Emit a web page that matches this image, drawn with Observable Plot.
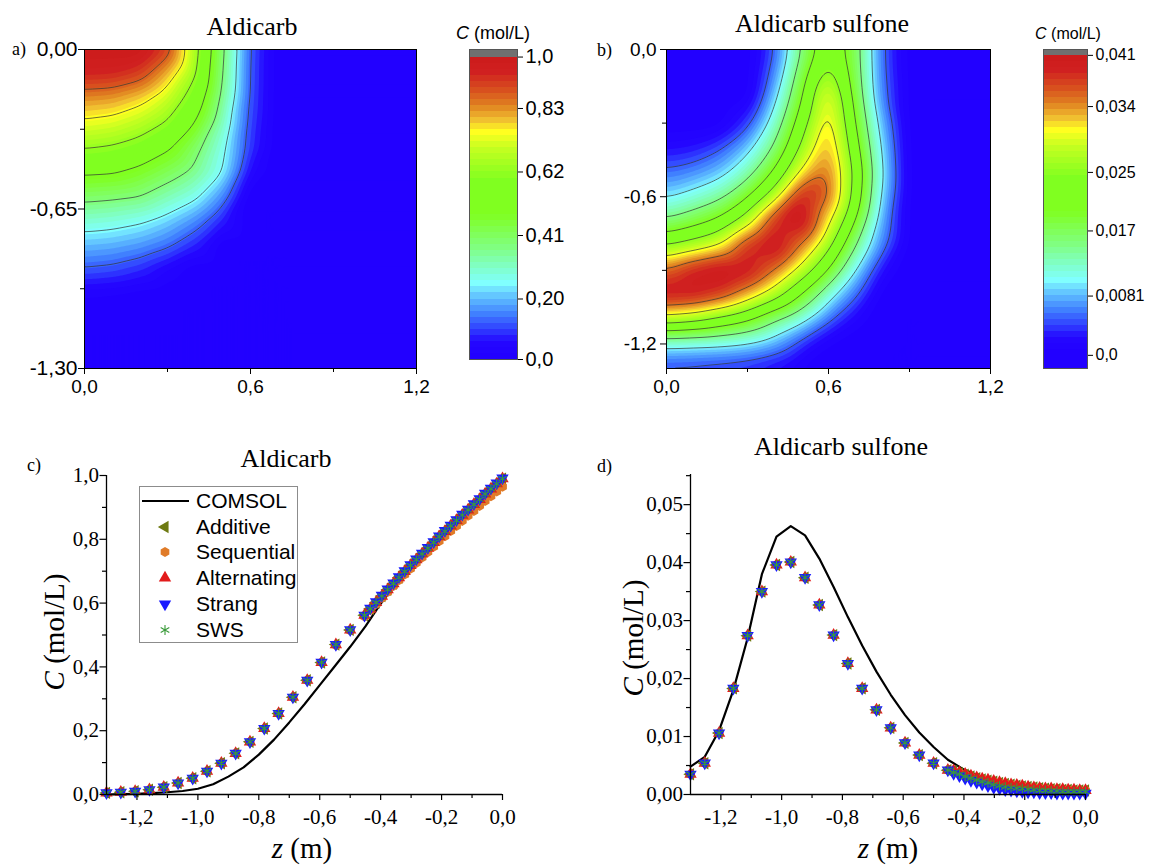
<!DOCTYPE html>
<html><head><meta charset="utf-8">
<script src="https://cdn.jsdelivr.net/npm/d3@7"></script>
<script src="https://cdn.jsdelivr.net/npm/@observablehq/plot@0.6"></script>
<style>
body{margin:0;background:#fff;}
#root{position:relative;width:1153px;height:865px;overflow:hidden;background:#fff;}
#root > svg{position:absolute;background:transparent;}
</style></head><body><div id="root"></div>
<script>
// ---------- DATA ----------
// 2D fields (rows: depth z, columns: horizontal x)
const gridX = [0, 0.1, 0.2, 0.3, 0.4, 0.5, 0.6, 0.7, 0.8, 0.9, 1.0, 1.1, 1.2];
const gridZ = [0, -0.1, -0.2, -0.3, -0.4, -0.5, -0.6, -0.7, -0.8, -0.9, -1.0, -1.1, -1.2, -1.3];
const aldicarbGrid = [
  [1.00, 1.00, 1.00, 0.91, 0.66, 0.39, 0.12, 0, 0, 0, 0, 0, 0],
  [0.95, 0.945, 0.91, 0.80, 0.635, 0.375, 0.115, 0, 0, 0, 0, 0, 0],
  [0.83, 0.82, 0.78, 0.70, 0.57, 0.35, 0.11, 0, 0, 0, 0, 0, 0],
  [0.735, 0.72, 0.68, 0.615, 0.50, 0.31, 0.10, 0, 0, 0, 0, 0, 0],
  [0.63, 0.615, 0.58, 0.515, 0.405, 0.27, 0.09, 0, 0, 0, 0, 0, 0],
  [0.515, 0.508, 0.473, 0.418, 0.354, 0.25, 0.05, 0, 0, 0, 0, 0, 0],
  [0.40, 0.39, 0.375, 0.32, 0.266, 0.158, 0, 0, 0, 0, 0, 0, 0],
  [0.29, 0.28, 0.26, 0.22, 0.16, 0.07, 0, 0, 0, 0, 0, 0, 0],
  [0.198, 0.19, 0.17, 0.135, 0.075, 0, 0, 0, 0, 0, 0, 0, 0],
  [0.115, 0.105, 0.08, 0.035, 0, 0, 0, 0, 0, 0, 0, 0, 0],
  [0.02, 0.015, 0.005, 0, 0, 0, 0, 0, 0, 0, 0, 0, 0],
  [0, 0, 0, 0, 0, 0, 0, 0, 0, 0, 0, 0, 0],
  [0, 0, 0, 0, 0, 0, 0, 0, 0, 0, 0, 0, 0],
  [0, 0, 0, 0, 0, 0, 0, 0, 0, 0, 0, 0, 0]
];
const sulfoneGrid = [
  [0, 0, 0, 0, 0.0045, 0.0153, 0.024, 0.0174, 0.0049, 0, 0, 0, 0],
  [0, 0, 0, 0, 0.0062, 0.0176, 0.028, 0.0176, 0.0052, 0, 0, 0, 0],
  [0, 0, 0, 0, 0.0089, 0.0198, 0.032, 0.0185, 0.0058, 0, 0, 0, 0],
  [0, 0, 0, 0.0035, 0.012, 0.0227, 0.033, 0.020, 0.0078, 0, 0, 0, 0],
  [0.002, 0.0025, 0.0045, 0.0086, 0.0153, 0.026, 0.034, 0.022, 0.0092, 0, 0, 0, 0],
  [0.0055, 0.0065, 0.0085, 0.013, 0.0205, 0.031, 0.0355, 0.024, 0.010, 0, 0, 0, 0],
  [0.0095, 0.0115, 0.014, 0.0193, 0.0278, 0.040, 0.036, 0.0232, 0.0089, 0, 0, 0, 0],
  [0.0155, 0.018, 0.0212, 0.028, 0.039, 0.042, 0.031, 0.020, 0.0073, 0, 0, 0, 0],
  [0.025, 0.0275, 0.0305, 0.039, 0.042, 0.035, 0.0265, 0.015, 0.006, 0, 0, 0, 0],
  [0.036, 0.040, 0.042, 0.041, 0.0355, 0.0285, 0.020, 0.010, 0.002, 0, 0, 0, 0],
  [0.041, 0.0405, 0.038, 0.033, 0.0275, 0.0197, 0.0115, 0.0055, 0, 0, 0, 0, 0],
  [0.028, 0.0265, 0.0235, 0.0205, 0.0153, 0.0113, 0.0055, 0.0015, 0, 0, 0, 0, 0],
  [0.0108, 0.0105, 0.0103, 0.0095, 0.0075, 0.0035, 0.0005, 0, 0, 0, 0, 0, 0],
  [0.0035, 0.0034, 0.003, 0.0025, 0.0015, 0.0003, 0, 0, 0, 0, 0, 0, 0]
];
const aldicarbMax = 1.0, sulfoneMax = 0.041;
const aldicarbLines = [0.125, 0.25, 0.375, 0.5, 0.625, 0.75, 0.875];
const sulfoneLines = [0.005, 0.01, 0.015, 0.02, 0.025, 0.03, 0.035];

// colour bar ticks
const cbarATicks = [0, 0.20, 0.41, 0.62, 0.83, 1.0];
const cbarALabels = ["0,0", "0,20", "0,41", "0,62", "0,83", "1,0"];
const cbarBTicks = [0, 0.0081, 0.017, 0.025, 0.034, 0.041];
const cbarBLabels = ["0,0", "0,0081", "0,017", "0,025", "0,034", "0,041"];

// profiles (z in m)
const zNum = [-1.300, -1.253, -1.206, -1.159, -1.112, -1.065, -1.017, -0.970, -0.923, -0.876, -0.829, -0.782, -0.735, -0.688, -0.641, -0.594, -0.547, -0.500, -0.453,
  -0.434, -0.415, -0.396, -0.377, -0.358, -0.340, -0.321, -0.302, -0.283, -0.264, -0.245, -0.226, -0.208, -0.189, -0.170, -0.151, -0.132, -0.113, -0.094, -0.075, -0.057, -0.038, -0.019, 0.000];

const zComsolC = [-1.30, -1.25, -1.20, -1.15, -1.10, -1.05, -1.00, -0.95, -0.90, -0.85, -0.80, -0.75, -0.70, -0.65, -0.60, -0.55, -0.50, -0.45, -0.40, -0.35, -0.30, -0.25, -0.20, -0.15, -0.10, -0.05, 0.00];
const cComsol = [0.000, 0.001, 0.002, 0.004, 0.007, 0.011, 0.018, 0.032, 0.056, 0.085, 0.125, 0.172, 0.226, 0.283, 0.343, 0.403, 0.463, 0.527, 0.598, 0.660, 0.716, 0.767, 0.814, 0.859, 0.903, 0.946, 0.990];

const cAdditive = [0.005, 0.007, 0.010, 0.015, 0.023, 0.036, 0.051, 0.073, 0.098, 0.129, 0.165, 0.207, 0.254, 0.305, 0.358, 0.414, 0.470, 0.516, 0.562,
  0.582, 0.602, 0.622, 0.642, 0.661, 0.680, 0.699, 0.718, 0.736, 0.754, 0.772, 0.790, 0.808, 0.825, 0.842, 0.859, 0.876, 0.892, 0.909, 0.925, 0.942, 0.958, 0.974, 0.990];
const cSequential = [0.005, 0.007, 0.010, 0.015, 0.023, 0.036, 0.051, 0.073, 0.098, 0.129, 0.165, 0.207, 0.254, 0.305, 0.358, 0.414, 0.468, 0.514, 0.558,
  0.578, 0.597, 0.616, 0.635, 0.654, 0.672, 0.690, 0.708, 0.726, 0.743, 0.760, 0.777, 0.794, 0.810, 0.826, 0.842, 0.858, 0.874, 0.889, 0.905, 0.920, 0.935, 0.950, 0.965];
const cAlternating = [0.005, 0.007, 0.010, 0.015, 0.023, 0.036, 0.051, 0.073, 0.098, 0.129, 0.165, 0.207, 0.254, 0.305, 0.358, 0.414, 0.470, 0.516, 0.562,
  0.582, 0.602, 0.622, 0.642, 0.661, 0.680, 0.699, 0.718, 0.736, 0.754, 0.772, 0.790, 0.808, 0.825, 0.842, 0.859, 0.876, 0.892, 0.909, 0.925, 0.942, 0.958, 0.974, 0.990];
const cStrang = [0.005, 0.007, 0.010, 0.015, 0.023, 0.036, 0.051, 0.073, 0.098, 0.129, 0.165, 0.207, 0.254, 0.305, 0.358, 0.414, 0.470, 0.516, 0.562,
  0.584, 0.604, 0.624, 0.644, 0.663, 0.682, 0.701, 0.720, 0.738, 0.756, 0.774, 0.792, 0.810, 0.827, 0.844, 0.861, 0.878, 0.894, 0.911, 0.927, 0.944, 0.960, 0.976, 0.992];
const cSWS = [0.005, 0.007, 0.010, 0.015, 0.023, 0.036, 0.051, 0.073, 0.098, 0.129, 0.165, 0.207, 0.254, 0.305, 0.358, 0.414, 0.470, 0.516, 0.562,
  0.582, 0.602, 0.622, 0.642, 0.661, 0.680, 0.699, 0.718, 0.736, 0.754, 0.772, 0.790, 0.808, 0.825, 0.842, 0.859, 0.876, 0.892, 0.909, 0.925, 0.942, 0.958, 0.974, 0.990];

const zComsolD = [-1.300, -1.253, -1.206, -1.159, -1.112, -1.065, -1.017, -0.970, -0.923, -0.876, -0.829, -0.782, -0.735, -0.688, -0.641, -0.594, -0.547, -0.500, -0.453, -0.40, -0.35, -0.30, -0.25, -0.20, -0.15, -0.10, -0.05, 0.00];
const dComsol = [0.0048, 0.0065, 0.0110, 0.0180, 0.0270, 0.0380, 0.0445, 0.0463, 0.0447, 0.0407, 0.0358, 0.0306, 0.0257, 0.0212, 0.0172, 0.0137, 0.0107, 0.0082, 0.0060, 0.0043, 0.0032, 0.0024, 0.0018, 0.0013, 0.0010, 0.0008, 0.0006, 0.0005];

const dAdditive = [0.0035, 0.0054, 0.0106, 0.0183, 0.0274, 0.0350, 0.0396, 0.0401, 0.0374, 0.0327, 0.0275, 0.0226, 0.0183, 0.0146, 0.0115, 0.0089, 0.0068, 0.0054, 0.0042,
  0.0040, 0.0037, 0.0034, 0.0031, 0.0028, 0.0026, 0.0024, 0.0022, 0.0020, 0.0018, 0.0017, 0.0015, 0.0014, 0.0013, 0.0012, 0.0011, 0.0010, 0.0009, 0.0009, 0.0008, 0.0008, 0.0007, 0.0007, 0.0007];
const dSequential = [0.0035, 0.0054, 0.0106, 0.0183, 0.0274, 0.0350, 0.0396, 0.0401, 0.0374, 0.0327, 0.0275, 0.0226, 0.0183, 0.0146, 0.0115, 0.0089, 0.0068, 0.0054, 0.0042,
  0.0040, 0.0037, 0.0034, 0.0031, 0.0028, 0.0026, 0.0024, 0.0022, 0.0020, 0.0018, 0.0017, 0.0015, 0.0014, 0.0013, 0.0012, 0.0011, 0.0010, 0.0009, 0.0009, 0.0008, 0.0008, 0.0007, 0.0007, 0.0007];
const dAlternating = [0.0035, 0.0054, 0.0106, 0.0183, 0.0274, 0.0350, 0.0396, 0.0401, 0.0374, 0.0327, 0.0275, 0.0226, 0.0183, 0.0146, 0.0115, 0.0089, 0.0068, 0.0054, 0.0042,
  0.0041, 0.0038, 0.0035, 0.0032, 0.0029, 0.0027, 0.0025, 0.0023, 0.0021, 0.0019, 0.0017, 0.0016, 0.0015, 0.0013, 0.0012, 0.0011, 0.0010, 0.0010, 0.0009, 0.0009, 0.0008, 0.0008, 0.0007, 0.0007];
const dStrang = [0.0035, 0.0054, 0.0106, 0.0183, 0.0274, 0.0350, 0.0396, 0.0401, 0.0374, 0.0327, 0.0275, 0.0226, 0.0183, 0.0146, 0.0115, 0.0089, 0.0068, 0.0054, 0.0042,
  0.0036, 0.0032, 0.0028, 0.0024, 0.0021, 0.0018, 0.0015, 0.0012, 0.0010, 0.0008, 0.0007, 0.0006, 0.0005, 0.0004, 0.0004, 0.0003, 0.0003, 0.0003, 0.0002, 0.0002, 0.0002, 0.0002, 0.0002, 0.0002];
const dSWS = [0.0035, 0.0054, 0.0106, 0.0183, 0.0274, 0.0350, 0.0396, 0.0401, 0.0374, 0.0327, 0.0275, 0.0226, 0.0183, 0.0146, 0.0115, 0.0089, 0.0068, 0.0054, 0.0042,
  0.0038, 0.0035, 0.0031, 0.0028, 0.0025, 0.0022, 0.0020, 0.0017, 0.0015, 0.0013, 0.0012, 0.0011, 0.0010, 0.0009, 0.0008, 0.0007, 0.0007, 0.0006, 0.0006, 0.0005, 0.0005, 0.0005, 0.0005, 0.0005];

const methods = ["Additive", "Sequential", "Alternating", "Strang", "SWS"];

// ---------- STYLE ----------
const stopT = [0, 0.05, 0.09, 0.14, 0.195, 0.24, 0.30, 0.36, 0.47, 0.58, 0.69, 0.74, 0.78, 0.83, 0.88, 0.94, 1.0];
const stopColors = ["#2200ff", "#2408ff", "#3040ff", "#4080ff", "#60c0ff", "#80ffff", "#80ffc0", "#80ff80", "#80ff20", "#80ff20", "#c8ff20", "#ffff20", "#f0c030", "#e08020", "#d8501e", "#d02020", "#cc1a1a"];
const methodStyle = {
  Additive:    {symbol: "triangle", rotate: -90, fill: "#6e7a12", r: 4.6},
  Sequential:  {symbol: "hexagon", rotate: 0, fill: "#e07b28", r: 4.4},
  Alternating: {symbol: "triangle", rotate: 0, fill: "#e21b1b", r: 4.6},
  Strang:      {symbol: "triangle", rotate: 180, fill: "#1a1aff", r: 4.6},
  SWS:         {symbol: "asterisk", rotate: 0, stroke: "#3a9a3a", r: 4.6}
};
const SANS = "Liberation Sans, Arial, sans-serif";
const SERIF = "Liberation Serif, Times New Roman, serif";

const fmt = n => d => (Math.abs(d) < 1e-9 ? 0 : d).toFixed(n).replace(".", ",");
const colorScale = max => ({type: "linear", domain: stopT.map(t => t * max), range: stopColors, interpolate: "rgb", clamp: true});
const blank = () => "";
const root = document.getElementById("root");
function place(el, left, top, family) {
  el.style.left = left + "px"; el.style.top = top + "px";
  if (family) {
    el.setAttribute("font-family", family);
    el.querySelectorAll("text").forEach(t => t.setAttribute("font-family", family));
  }
  root.appendChild(el);
}

// ---------- CONTOUR PANELS ----------
function contourPanel(grid, max, lines, o) {
  const pts = gridZ.flatMap((z, i) => gridX.map((x, j) => ({x, z, v: grid[i][j]})));
  const bands = d3.range(50).map(i => i * max / 50);
  return Plot.plot({
    width: o.width, height: o.height, marginTop: o.mt, marginRight: o.mr, marginBottom: o.mb, marginLeft: o.ml,
    x: {domain: [0, 1.2]}, y: {domain: [-1.3, 0]},
    color: colorScale(max),
    marks: [
      Plot.frame({fill: stopColors[0]}),
      Plot.contour(pts, {x: "x", y: "z", fill: "v", thresholds: bands, interpolate: "barycentric", pixelSize: 1, blur: o.blur}),
      Plot.contour(pts, {x: "x", y: "z", value: "v", thresholds: lines, interpolate: "barycentric", pixelSize: 1, blur: o.blur, stroke: "#333", strokeWidth: 0.7, fill: "none"}),
      Plot.frame({stroke: "#000", strokeWidth: 1}),
      Plot.axisX({ticks: [0, 0.6, 1.2], tickSize: 6, tickPadding: 5, tickFormat: fmt(1), fontSize: 19, fontFamily: SANS, label: null}),
      Plot.axisX({ticks: [0.3, 0.9], tickSize: 4, tickFormat: blank, label: null}),
      Plot.axisY({ticks: o.yTicks, tickSize: 6, tickPadding: o.yPad, tickFormat: fmt(o.yDec), fontSize: o.yFont, fontFamily: SANS, label: null}),
      Plot.axisY({ticks: o.yMinor, tickSize: 4, tickFormat: blank, label: null})
    ]
  });
}

function colorbar(max, lo, hi, ticks, labels, o) {
  const step = max / 50;
  const bands = d3.range(50).map(i => ({y1: i * step, y2: (i + 1) * step, v: i * step}));
  if (lo < 0) bands.unshift({y1: lo, y2: 0, v: 0});
  return Plot.plot({
    width: o.width, height: o.height, marginTop: o.mt, marginRight: o.mr, marginBottom: o.mb, marginLeft: o.ml,
    x: {domain: [0, 1], axis: null}, y: {domain: [lo, hi], axis: null},
    color: colorScale(max),
    marks: [
      Plot.rect(bands, {x1: 0, x2: 1, y1: "y1", y2: "y2", fill: "v", shapeRendering: "crispEdges"}),
      Plot.rect([{y1: max, y2: hi}], {x1: 0, x2: 1, y1: "y1", y2: "y2", fill: "#707070", shapeRendering: "crispEdges"}),
      Plot.frame({stroke: "#555", strokeWidth: 1}),
      Plot.axisY({anchor: "right", ticks, tickSize: 5, tickPadding: 3, fontSize: o.font, fontFamily: SANS, label: null,
        tickFormat: d => labels[ticks.indexOf(d)]})
    ]
  });
}

// ---------- PROFILE PANELS ----------
function profilePanel(zLine, line, series, o) {
  const marks = [Plot.line(zLine.map((z, i) => ({z, c: line[i]})), {x: "z", y: "c", stroke: "#000", strokeWidth: 2.2})];
  methods.forEach((m, k) => {
    const s = methodStyle[m];
    const data = zNum.map((z, i) => ({z, c: series[k][i]}));
    if (s.stroke) marks.push(Plot.dot(data, {x: "z", y: "c", symbol: s.symbol, r: s.r, stroke: s.stroke, strokeWidth: 1.1}));
    else marks.push(Plot.dot(data, {x: "z", y: "c", symbol: s.symbol, rotate: s.rotate, r: s.r, fill: s.fill}));
  });
  marks.push(
    Plot.ruleX([-1.3], {stroke: "#000", strokeWidth: 1.3}),
    Plot.ruleY([0], {stroke: "#000", strokeWidth: 1.3}),
    Plot.axisX({ticks: [-1.2, -1.0, -0.8, -0.6, -0.4, -0.2, 0], tickSize: 6, tickPadding: 9, tickFormat: fmt(1), fontSize: 21, fontFamily: SERIF, strokeWidth: 1.2, label: null}),
    Plot.axisX({ticks: [-1.1, -0.9, -0.7, -0.5, -0.3, -0.1], tickSize: 4, tickFormat: blank, strokeWidth: 1.2, label: null}),
    Plot.axisY({ticks: o.yTicks, tickSize: 6.5, tickPadding: 1, tickFormat: fmt(o.yDec), fontSize: 21, fontFamily: SERIF, strokeWidth: 1.2, label: null}),
    Plot.axisY({ticks: o.yMinor, tickSize: 4, tickFormat: blank, strokeWidth: 1.2, label: null})
  );
  return Plot.plot({
    width: o.width, height: o.height, marginTop: o.mt, marginRight: o.mr, marginBottom: o.mb, marginLeft: o.ml,
    x: {domain: [-1.3, 0]}, y: {domain: [0, o.ymax]},
    marks
  });
}

// ---------- BUILD ----------
place(contourPanel(aldicarbGrid, aldicarbMax, aldicarbLines, {width: 460, height: 400, mt: 49, mr: 44, mb: 32, ml: 84,
  yTicks: [0, -0.65, -1.3], yMinor: [-0.325, -0.975], yDec: 2, yFont: 21, yPad: 1, blur: 5}), 0, 0, SANS);
place(contourPanel(sulfoneGrid, sulfoneMax, sulfoneLines, {width: 460, height: 400, mt: 49, mr: 50, mb: 32, ml: 86,
  yTicks: [0, -0.6, -1.2], yMinor: [-0.3, -0.9], yDec: 1, yFont: 19, yPad: 4, blur: 8}), 580, 0, SANS);
place(colorbar(aldicarbMax, 0, 1.025, cbarATicks, cbarALabels, {width: 130, height: 400, mt: 49, mr: 53, mb: 41, ml: 29, font: 20}), 440, 0, SANS);
place(colorbar(sulfoneMax, -0.0018, 0.0418, cbarBTicks, cbarBLabels, {width: 133, height: 400, mt: 49, mr: 66, mb: 32, ml: 23, font: 16}), 1020, 0, SANS);

place(profilePanel(zComsolC, cComsol, [cAdditive, cSequential, cAlternating, cStrang, cSWS],
  {width: 560, height: 435, mt: 45, mr: 58, mb: 71, ml: 106, ymax: 1.0,
   yTicks: [0, 0.2, 0.4, 0.6, 0.8, 1.0], yMinor: [0.1, 0.3, 0.5, 0.7, 0.9], yDec: 1}), 0, 430, SERIF);
place(profilePanel(zComsolD, dComsol, [dAdditive, dSequential, dAlternating, dStrang, dSWS],
  {width: 573, height: 435, mt: 44, mr: 68, mb: 71, ml: 110, ymax: 0.0552,
   yTicks: [0, 0.01, 0.02, 0.03, 0.04, 0.05], yMinor: [0.005, 0.015, 0.025, 0.035, 0.045, 0.055], yDec: 2}), 580, 430, SERIF);

// ---------- TEXT OVERLAY & LEGEND ----------
const ov = d3.create("svg").attr("width", 1153).attr("height", 865).style("pointer-events", "none");
function txt(x, y, size, family, anchor = "middle", rot = 0) {
  const el = ov.append("text").attr("x", x).attr("y", y).attr("font-size", size).attr("font-family", family)
    .attr("text-anchor", anchor).attr("fill", "#000");
  if (rot) el.attr("transform", `rotate(${rot},${x},${y})`);
  return el;
}
function cLabel(x, y, size, family, rot) {
  const el = txt(x, y, size, family, "middle", rot);
  el.append("tspan").attr("font-style", "italic").text("C");
  el.append("tspan").text(" (mol/L)");
}
function zLabel(x, y) {
  const el = txt(x, y, 29, SERIF);
  el.append("tspan").attr("font-style", "italic").text("z");
  el.append("tspan").text(" (m)");
}
txt(252, 35, 26, SERIF).text("Aldicarb");
txt(822, 32, 26, SERIF).text("Aldicarb sulfone");
txt(286, 467, 26, SERIF).text("Aldicarb");
txt(841, 455, 26, SERIF).text("Aldicarb sulfone");
txt(12, 55, 18, SERIF, "start").text("a)");
txt(597, 56, 18, SERIF, "start").text("b)");
txt(27, 471, 18, SERIF, "start").text("c)");
txt(597, 472, 18, SERIF, "start").text("d)");
cLabel(493, 39, 18, SANS, 0);
cLabel(1068, 39, 16, SANS, 0);
cLabel(64, 632, 29, SERIF, -90);
cLabel(643, 638, 29, SERIF, -90);
zLabel(302, 858);
zLabel(888, 858);

// legend (panel c)
const lg = ov.append("g");
lg.append("rect").attr("x", 139.5).attr("y", 486.5).attr("width", 158).attr("height", 156).attr("fill", "#fff").attr("stroke", "#8c8c8c").attr("stroke-width", 1);
const rowY = [501, 527, 552, 578, 604, 630];
lg.append("line").attr("x1", 142).attr("x2", 189).attr("y1", rowY[0]).attr("y2", rowY[0]).attr("stroke", "#000").attr("stroke-width", 2.2);
lg.append("text").attr("x", 196).attr("y", rowY[0] + 7).attr("font-family", SANS).attr("font-size", 21).text("COMSOL");
const hexPath = d3.range(6).map(i => { const a = Math.PI / 3 * i - Math.PI / 2; return [Math.cos(a) * 5, Math.sin(a) * 5]; });
methods.forEach((m, k) => {
  const s = methodStyle[m], y = rowY[k + 1];
  let p;
  if (s.symbol === "hexagon") p = lg.append("path").attr("d", "M" + hexPath.map(q => q.join(",")).join("L") + "Z");
  else if (s.symbol === "asterisk") p = lg.append("path").attr("d", d3.symbol(d3.symbolAsterisk, Math.PI * 22)());
  else p = lg.append("path").attr("d", d3.symbol(d3.symbolTriangle, Math.PI * s.r * s.r)());
  p.attr("transform", `translate(165,${y}) rotate(${s.rotate})`);
  if (s.stroke) p.attr("fill", "none").attr("stroke", s.stroke).attr("stroke-width", 1.1);
  else p.attr("fill", s.fill);
  lg.append("text").attr("x", 196).attr("y", y + 7).attr("font-family", SANS).attr("font-size", 21).text(m);
});
place(ov.node(), 0, 0);
</script></body></html>
